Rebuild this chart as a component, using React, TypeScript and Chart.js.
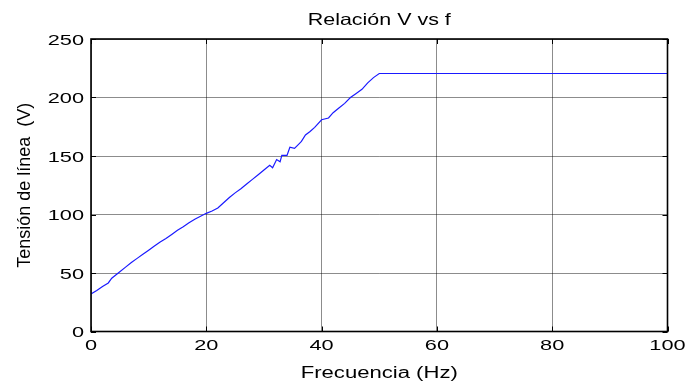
import React, { useEffect, useRef } from "react";
import { Chart, registerables } from "chart.js";

Chart.register(...registerables);

const chartTitle = "Relación V vs f";
const xTitle = "Frecuencia (Hz)";
const yTitle = "Tensión de línea  (V)";

const xTicks = [0, 20, 40, 60, 80, 100];
const yTicks = [0, 50, 100, 150, 200, 250];

const freq = [
  0, 1, 2, 3, 3.6, 5, 6, 7, 8, 9, 10, 11, 12, 13, 14, 15, 16, 17, 18, 19, 20,
  21, 22, 23, 24, 25, 26, 27, 28, 29, 30, 31, 31.5, 32.2, 32.8, 33.1, 34, 34.5,
  35.3, 36, 36.5, 37.2, 38, 38.8, 40, 41.2, 42, 43, 44, 45, 46, 47, 48, 49, 50,
  100,
];
const volt = [
  32, 35, 38.5, 41.5, 45.5, 51, 55, 59, 62.5, 66, 69.5, 73, 76.5, 79.5, 83,
  86.5, 89.5, 93, 96, 98.5, 101, 103, 105.5, 110, 114.5, 118.5, 122, 126, 130,
  134, 138, 142, 140, 147, 145, 150.5, 150.5, 157.5, 156.5, 160, 162.5, 168,
  171, 174.5, 181, 182.5, 187, 191, 195, 200, 203.5, 207, 212.5, 217, 220.5,
  220.5,
];

const W = 688;
const H = 383;
const PLOT_LEFT = 91;
const PLOT_RIGHT = 667.5;
const PLOT_TOP = 39;
const PLOT_BOTTOM = 331.5;

function stretchText(
  ctx: CanvasRenderingContext2D,
  text: string,
  x: number,
  y: number,
  font: string,
  sx: number,
  align: CanvasTextAlign
) {
  ctx.save();
  ctx.translate(x, y);
  ctx.scale(sx, 1);
  ctx.font = font;
  ctx.fillStyle = "#000";
  ctx.textAlign = align;
  ctx.textBaseline = "alphabetic";
  ctx.fillText(text, 0, 0);
  ctx.restore();
}

const matlabPlugin = {
  id: "matlabDecor",
  afterDraw(chart: any) {
    const ctx: CanvasRenderingContext2D = chart.ctx;
    const { left, right, top, bottom } = chart.chartArea;
    const xs = chart.scales.x;
    const ys = chart.scales.y;
    ctx.save();
    ctx.strokeStyle = "#000";
    ctx.lineWidth = 1;
    ctx.beginPath();
    xTicks.forEach((v) => {
      const px = Math.round(xs.getPixelForValue(v)) + 0.5;
      ctx.moveTo(px, bottom);
      ctx.lineTo(px, bottom - 5);
      ctx.moveTo(px, top);
      ctx.lineTo(px, top + 5);
    });
    yTicks.forEach((v) => {
      const py = Math.round(ys.getPixelForValue(v)) + 0.5;
      ctx.moveTo(left, py);
      ctx.lineTo(left + 5, py);
      ctx.moveTo(right, py);
      ctx.lineTo(right - 5, py);
    });
    ctx.stroke();
    ctx.lineWidth = 1.6;
    ctx.strokeRect(left, top, right - left, bottom - top);

    const tickFont = "15px 'Liberation Sans', Arial, sans-serif";
    xTicks.forEach((v) => {
      const px = xs.getPixelForValue(v);
      stretchText(ctx, String(v), px, 350, tickFont, 1.45, "center");
    });
    yTicks.forEach((v) => {
      const py = ys.getPixelForValue(v);
      stretchText(ctx, String(v), 84, py + 5.5, tickFont, 1.45, "right");
    });
    const cx = (left + right) / 2;
    stretchText(
      ctx,
      xTitle,
      cx,
      377.5,
      "16px 'Liberation Sans', Arial, sans-serif",
      1.38,
      "center"
    );
    stretchText(
      ctx,
      chartTitle,
      cx,
      25,
      "16.5px 'Liberation Sans', Arial, sans-serif",
      1.3,
      "center"
    );
    ctx.save();
    ctx.translate(30, (top + bottom) / 2);
    ctx.rotate(-Math.PI / 2);
    ctx.font = "18px 'Liberation Sans', Arial, sans-serif";
    ctx.fillStyle = "#000";
    ctx.textAlign = "center";
    ctx.textBaseline = "alphabetic";
    ctx.fillText(yTitle, 0, 0);
    ctx.restore();
    ctx.restore();
  },
};

export default function App() {
  const canvasRef = useRef<HTMLCanvasElement | null>(null);

  useEffect(() => {
    if (!canvasRef.current) return;
    const points = freq.map((f, i) => ({ x: f, y: volt[i] }));
    const chart = new Chart(canvasRef.current, {
      type: "scatter",
      data: {
        datasets: [
          {
            data: points,
            showLine: true,
            borderColor: "#1a1aff",
            backgroundColor: "#1a1aff",
            borderWidth: 1.2,
            pointRadius: 0,
            tension: 0,
          },
        ],
      },
      options: {
        animation: false,
        responsive: false,
        devicePixelRatio: 1,
        layout: {
          padding: { top: PLOT_TOP, right: W - PLOT_RIGHT, left: 0, bottom: 0 },
        },
        plugins: {
          legend: { display: false },
          title: { display: false },
          tooltip: { enabled: false },
        },
        scales: {
          x: {
            type: "linear",
            min: 0,
            max: 100,
            ticks: { display: false, stepSize: 20 },
            grid: {
              color: "rgba(0,0,0,0.45)",
              lineWidth: 1,
              drawTicks: false,
              tickLength: 0,
            },
            border: { display: false },
            afterFit: (scale: any) => {
              scale.height = H - PLOT_BOTTOM;
            },
          },
          y: {
            type: "linear",
            min: 0,
            max: 250,
            ticks: { display: false, stepSize: 50 },
            grid: {
              color: "rgba(0,0,0,0.45)",
              lineWidth: 1,
              drawTicks: false,
              tickLength: 0,
            },
            border: { display: false },
            afterFit: (scale: any) => {
              scale.width = PLOT_LEFT;
            },
          },
        },
      },
      plugins: [matlabPlugin],
    });
    return () => chart.destroy();
  }, []);

  return (
    <div style={{ position: "fixed", left: 0, top: 0, width: W, height: H, background: "#fff" }}>
      <canvas ref={canvasRef} width={W} height={H} style={{ width: W, height: H, display: "block" }} />
    </div>
  );
}
